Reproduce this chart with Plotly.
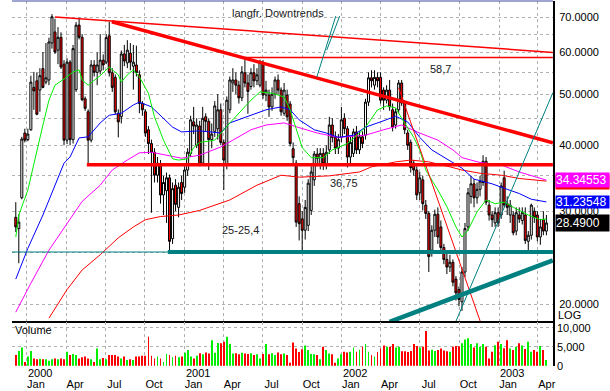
import numpy as np
import pandas as pd
import plotly.graph_objects as go

# ---------------- data (weekly, starting week of 1999-12-06) ----------------
start_week = "1999-12-06"
opens = [29.2, 27.8, 31.8, 42.2, 41.0, 42.8, 51.5, 53.0, 50.9, 55.9,
         52.7, 53.2, 62.5, 65.6, 60.6, 64.1, 57.0, 40.9, 57.5, 41.0,
         51.0, 67.6, 64.1, 49.0, 46.3, 40.9, 56.8, 55.0, 55.3, 58.0,
         57.5, 64.5, 54.9, 53.8, 46.0, 45.3, 59.6, 57.3, 59.8, 56.5,
         56.8, 54.4, 48.0, 46.3, 42.8, 40.3, 38.8, 35.1, 36.5, 32.2,
         32.8, 34.7, 26.6, 33.6, 30.5, 34.0, 33.3, 35.9, 38.6, 44.3,
         40.0, 43.5, 37.0, 45.3, 44.4, 41.0, 42.5, 43.0, 46.7, 40.5,
         36.7, 46.7, 52.5, 53.2, 52.0, 49.2, 54.9, 52.5, 51.7, 54.9,
         53.0, 52.0, 57.3, 49.8, 49.8, 47.3, 50.0, 53.2, 50.9, 46.0,
         49.8, 47.9, 39.4, 37.0, 31.0, 29.0, 27.6, 28.2, 30.1, 34.4,
         38.5, 36.9, 38.6, 36.9, 39.2, 43.7, 41.4, 39.5, 41.4, 45.0,
         43.0, 38.0, 38.6, 42.4, 39.2, 41.5, 41.8, 48.3, 53.7, 52.0,
         53.8, 53.8, 50.9, 48.7, 50.9, 46.7, 43.7, 46.7, 52.5, 48.1,
         42.2, 40.5, 37.0, 35.9, 32.5, 34.4, 30.8, 29.7, 25.3, 27.6,
         29.6, 28.0, 25.6, 24.3, 23.5, 24.0, 22.3, 21.3, 20.2, 23.0,
         28.0, 32.0, 33.8, 31.8, 33.0, 34.0, 37.3, 30.8, 29.5, 28.5,
         29.8, 29.5, 34.7, 31.0, 29.5, 29.5, 27.5, 29.5, 28.8, 29.5,
         26.3, 27.0, 30.0, 29.5, 26.8, 28.9, 27.5]
highs = [31.2, 29.6, 41.5, 43.0, 43.0, 54.2, 55.1, 54.9, 56.0, 60.1,
         62.5, 64.0, 70.9, 69.5, 67.0, 65.5, 58.0, 58.5, 58.0, 62.0,
         68.5, 69.8, 65.0, 49.5, 46.8, 58.0, 58.0, 60.0, 65.0, 59.5,
         65.0, 68.6, 56.0, 54.5, 46.8, 60.5, 62.0, 63.3, 62.5, 62.0,
         61.8, 55.5, 48.5, 46.8, 43.5, 41.0, 39.5, 38.0, 37.5, 35.0,
         35.5, 35.2, 34.0, 34.5, 34.0, 35.0, 36.5, 39.5, 45.5, 47.3,
         45.0, 44.5, 47.3, 46.0, 45.0, 44.0, 48.5, 50.0, 48.0, 41.0,
         49.5, 54.0, 56.0, 55.0, 53.0, 56.5, 58.8, 54.5, 56.0, 57.0,
         56.0, 58.1, 58.0, 53.0, 51.0, 51.5, 54.0, 54.5, 51.5, 52.5,
         51.0, 48.5, 40.5, 37.5, 32.0, 30.0, 31.5, 34.5, 36.5, 39.0,
         39.5, 39.5, 39.5, 40.0, 45.3, 45.0, 42.5, 42.0, 47.3, 46.0,
         43.5, 41.5, 43.0, 43.5, 42.5, 42.5, 49.0, 55.0, 55.5, 55.5,
         55.0, 55.0, 51.5, 52.0, 53.2, 48.0, 47.0, 53.2, 53.2, 48.7,
         42.8, 41.0, 37.5, 36.5, 35.6, 35.0, 31.5, 30.0, 28.2, 30.2,
         30.5, 28.8, 26.0, 25.0, 24.8, 24.3, 22.6, 21.6, 23.5, 28.5,
         33.2, 35.0, 34.5, 34.0, 35.0, 38.3, 38.0, 31.5, 30.0, 30.5,
         30.5, 34.0, 35.8, 32.0, 31.5, 30.0, 30.5, 30.5, 30.5, 30.5,
         27.5, 31.0, 30.5, 30.0, 29.0, 30.0, 29.5]
lows = [27.4, 23.9, 31.6, 40.5, 40.7, 42.6, 46.7, 45.6, 46.3, 51.3,
        52.2, 52.0, 61.0, 59.6, 57.0, 55.8, 40.0, 40.2, 40.0, 40.3,
        50.5, 63.5, 48.5, 46.5, 36.7, 40.5, 54.0, 52.0, 54.5, 55.5,
        57.0, 54.0, 50.5, 45.8, 41.4, 44.0, 56.5, 56.0, 55.5, 51.0,
        54.0, 46.0, 45.5, 41.5, 38.5, 29.8, 34.0, 34.0, 31.0, 29.5,
        28.5, 25.3, 26.0, 30.0, 29.2, 31.5, 32.5, 35.0, 38.0, 42.0,
        39.5, 36.5, 36.7, 42.5, 35.9, 39.5, 41.5, 41.0, 40.0, 32.9,
        36.0, 46.0, 50.5, 50.0, 48.0, 48.5, 51.5, 45.9, 51.0, 51.5,
        52.0, 51.5, 49.0, 48.5, 45.3, 46.5, 49.0, 50.0, 45.5, 45.5,
        44.5, 39.8, 36.9, 28.0, 26.4, 25.3, 26.5, 27.5, 29.5, 33.5,
        36.5, 36.0, 35.9, 36.0, 38.5, 40.5, 38.5, 38.5, 40.5, 42.0,
        36.3, 37.0, 38.0, 38.5, 38.5, 39.5, 41.0, 47.5, 51.5, 51.0,
        51.5, 48.0, 46.7, 48.0, 46.5, 42.5, 43.0, 46.0, 47.5, 42.0,
        39.2, 35.5, 35.0, 31.5, 31.5, 30.1, 29.0, 23.0, 24.6, 26.8,
        26.0, 25.0, 23.8, 22.8, 23.0, 21.6, 20.3, 19.8, 19.4, 22.5,
        27.5, 31.0, 30.5, 31.0, 32.0, 33.5, 30.8, 28.8, 28.0, 28.0,
        28.0, 29.0, 30.5, 29.5, 28.5, 27.0, 27.0, 28.5, 28.3, 26.0,
        25.0, 26.5, 28.5, 26.3, 25.9, 27.0, 27.0]
closes = [28.0, 28.6, 41.1, 40.9, 42.0, 52.7, 50.7, 45.8, 54.2, 51.5,
          53.7, 62.8, 70.1, 60.1, 64.1, 56.3, 40.9, 57.5, 41.0, 61.0,
          67.6, 64.1, 48.8, 47.0, 40.9, 56.8, 55.0, 56.8, 58.0, 56.8,
          64.0, 54.9, 51.5, 46.3, 44.3, 59.6, 57.8, 60.6, 57.5, 57.5,
          54.9, 48.0, 46.7, 42.2, 40.3, 38.8, 35.1, 37.0, 32.2, 34.0,
          34.7, 26.3, 33.1, 30.9, 33.3, 32.4, 35.9, 38.8, 44.7, 43.5,
          43.7, 36.7, 45.0, 44.4, 41.0, 42.0, 47.5, 46.7, 40.5, 37.5,
          48.7, 53.2, 53.2, 52.0, 49.2, 55.1, 52.5, 50.6, 54.9, 53.0,
          54.4, 57.5, 49.8, 50.9, 47.3, 50.0, 53.2, 50.9, 46.3, 50.9,
          45.3, 40.3, 37.9, 28.6, 28.4, 27.6, 30.5, 33.9, 35.6, 38.5,
          37.8, 38.6, 36.9, 38.8, 43.7, 41.4, 39.5, 41.0, 44.7, 43.0,
          38.0, 40.5, 42.4, 39.2, 41.5, 40.3, 48.3, 53.7, 53.0, 53.8,
          53.0, 48.7, 48.7, 50.9, 47.3, 43.3, 46.3, 52.5, 48.1, 42.8,
          40.0, 36.3, 35.9, 32.2, 34.7, 31.0, 29.7, 24.6, 27.6, 29.6,
          26.8, 25.6, 24.3, 23.5, 24.0, 22.0, 21.0, 20.4, 23.0, 27.8,
          32.5, 33.8, 31.8, 33.0, 34.2, 37.3, 31.2, 29.5, 28.9, 29.8,
          28.5, 33.5, 30.8, 30.5, 30.8, 27.3, 29.8, 29.0, 29.8, 26.4,
          27.0, 30.8, 29.2, 26.8, 28.0, 27.5, 28.49]
volumes = [2800, 3900, 4800, 1000, 2400, 3900, 1900, 1700, 1800, 1700,
           1700, 1300, 1700, 1900, 1700, 1900, 1700, 3700, 2800, 3100,
           2800, 1900, 2200, 2400, 1900, 1700, 1000, 4500, 1700, 2000,
           1700, 2800, 2800, 2800, 2400, 1900, 2400, 1500, 1700, 1500,
           2400, 2400, 2600, 2600, 7600, 2600, 1900, 2400, 1900, 1000,
           3100, 2800, 2200, 2600, 2200, 2400, 3400, 4100, 2400, 1900,
           2600, 3300, 3000, 3500, 3200, 6700, 3400, 6000, 5900, 6300,
           7600, 5700, 3200, 3300, 3000, 3400, 3200, 3100, 3300, 2800,
           3000, 1900, 3100, 5700, 3000, 3300, 2800, 3500, 3000, 3200,
           2800, 800, 6100, 4500, 3600, 4300, 5300, 4100, 3100, 3000,
           2800, 1700, 5000, 4100, 3200, 3000, 800, 1900, 3000, 3700,
           3500, 3700, 4800, 3700, 4200, 5000, 5700, 3700, 2800, 2400,
           3600, 4500, 5300, 5000, 5000, 5700, 4800, 5000, 3800, 3800,
           3600, 3900, 5700, 5200, 4800, 5000, 9100, 4000, 4200, 3900,
           4100, 4500, 4000, 3800, 3700, 5000, 5200, 5100, 5900, 6900,
           7200, 5700, 4800, 5900, 5000, 5700, 5000, 1900, 3700, 5400,
           6300, 5700, 4600, 6700, 4500, 4100, 5000, 5900, 5300, 4400,
           6300, 3700, 4100, 3700, 5200, 4100, 1500]

# moving averages (week index -> value)
ma_green_idx = [0, 1, 4, 7, 9, 11, 13, 16, 19, 21, 22, 24, 28, 31, 34, 35, 37, 39, 41, 44,
                46, 49, 52, 54, 57, 59, 61, 66, 71, 78, 81, 85, 89, 91, 93, 95, 98, 102,
                105, 110, 114, 116, 120, 123, 126, 128, 132, 134, 136, 140, 143, 146, 148,
                150, 153, 156, 159, 162, 166, 170, 174, 176]
ma_green = [26.8, 29.5, 32.9, 39.2, 43.7, 48.7, 52.0, 53.4, 55.1, 55.6, 53.2, 52.0, 54.2,
            56.3, 54.4, 52.7, 54.4, 55.6, 53.9, 50.2, 45.3, 40.9, 37.7, 37.5, 37.7, 39.6,
            40.5, 40.9, 44.1, 48.7, 50.5, 50.2, 49.4, 46.7, 42.8, 39.6, 37.9, 37.9, 39.2,
            40.3, 42.2, 43.3, 46.7, 47.5, 47.1, 45.0, 41.4, 39.2, 35.9, 32.9, 30.6, 28.0,
            26.8, 27.6, 29.9, 31.5, 31.0, 31.2, 30.3, 29.5, 28.9, 29.0]
ma_blue_idx = [0, 4, 9, 11, 16, 18, 21, 24, 28, 31, 35, 39, 41, 45, 48, 52, 55, 61, 68, 71,
               78, 83, 88, 91, 94, 99, 103, 107, 112, 116, 121, 126, 130, 134, 138, 143,
               146, 148, 152, 158, 163, 167, 171, 176]
ma_blue = [22.3, 25.5, 29.5, 31.5, 37.0, 38.0, 41.3, 41.5, 44.1, 45.6, 46.0, 47.7, 48.3,
           47.3, 45.6, 43.3, 42.4, 42.6, 42.2, 44.1, 45.6, 46.7, 47.3, 46.7, 44.7, 42.8,
           42.2, 41.4, 41.8, 43.3, 44.3, 45.4, 44.3, 41.4, 39.2, 37.7, 36.9, 36.2, 34.5,
           33.8, 33.0, 32.4, 31.6, 31.23548]
ma_magenta_idx = [0, 5, 11, 17, 22, 28, 32, 37, 41, 45, 50, 55, 61, 68, 72, 78, 83, 89, 94,
                  100, 107, 116, 122, 128, 134, 140, 145, 148, 154, 161, 167, 173, 176]
ma_magenta = [19.3, 21.9, 25.3, 28.5, 31.3, 33.6, 35.9, 37.5, 38.7, 38.8, 38.3, 37.8, 38.3,
              39.7, 40.9, 42.8, 43.7, 44.1, 43.2, 42.2, 41.4, 41.8, 42.8, 43.7, 42.2, 40.9,
              39.2, 37.9, 37.1, 36.7, 35.6, 34.8, 34.34553]
ma_red_idx = [11, 17, 22, 28, 34, 39, 43, 48, 54, 61, 71, 80, 88, 94, 104, 114, 118, 126,
              131, 137, 144, 148, 154, 161, 167, 173, 176]
ma_red = [18.8, 21.3, 23.2, 24.8, 26.7, 28.0, 28.9, 29.3, 29.5, 30.1, 31.5, 33.6, 35.1,
          34.8, 35.0, 35.6, 36.4, 37.2, 37.5, 37.2, 36.4, 35.9, 35.4, 35.1, 34.6, 34.4, 34.2]

# drawn trend lines / levels (dates, prices)
right_end = "2003-05-06"
trend_long_dates = ["2000-03-06", right_end]
trend_long_vals = [70.0, 60.0]
trend_main_dates = ["2000-07-16", right_end]
trend_main_vals = [68.6, 40.45]
level_587_dates = ["2001-05-21", right_end]
level_587_vals = [58.7, 58.7]
level_3675_dates = ["2000-05-19", right_end]
level_3675_vals = [36.75, 36.75]
steep_down_dates = ["2002-05-13", "2002-11-25"]
steep_down_vals = [51.4, 17.9]
level_25_dates = ["2000-11-23", right_end]
level_25_full_dates = ["1999-11-27", right_end]
level_25_vals = [25.1, 25.1]
support_dates = ["2002-04-22", right_end]
support_vals = [18.5, 24.2]
steep_up_dates = ["2002-09-20", right_end]
steep_up_vals = [18.3, 50.3]
pointer1_dates = ["2001-12-18", "2001-11-04"]
pointer1_vals = [70.3, 53.9]
pointer2_dates = ["2001-12-27", "2001-11-27"]
pointer2_vals = [70.3, 60.6]

quarter_ticks = ["2000-01-01", "2000-04-01", "2000-07-01", "2000-10-01",
                 "2001-01-01", "2001-04-01", "2001-07-01", "2001-10-01",
                 "2002-01-01", "2002-04-01", "2002-07-01", "2002-10-01",
                 "2003-01-01", "2003-04-01"]
month_labels = ["Jan", "Apr", "Jul", "Oct"] * 3 + ["Jan", "Apr"]
year_ticks = ["2000-01-01", "2001-01-01", "2002-01-01", "2003-01-01"]
year_labels = ["2000", "2001", "2002", "2003"]
price_ticks = [20, 25, 30, 35, 40, 45, 50, 55, 60, 65, 70]
price_labels = ["20.0000", "", "30.0000", "", "40.0000", "", "50.0000", "", "60.0000", "", "70.0000"]
vol_ticks = [0, 5000, 10000]
vol_labels = ["0", "5,000", "10,000"]

last_close = 28.49
last_blue = 31.23548
last_magenta = 34.34553
last_red = 34.0

# ---------------- figure ----------------
dates = pd.date_range(start_week, periods=len(closes), freq="7D")
FONT = "Liberation Sans"
x_range = ["1999-11-27 05:00", "2003-05-06 09:00"]
vol_range = [-80, 11500]

fig = go.Figure()

def ma_trace(idx, vals, color):
    return go.Scatter(x=[dates[i] for i in idx], y=vals, mode="lines",
                      line=dict(color=color, width=1), xaxis="x", yaxis="y",
                      hoverinfo="skip", showlegend=False)

fig.add_trace(ma_trace(ma_red_idx, ma_red, "#ff0000"))
fig.add_trace(ma_trace(ma_magenta_idx, ma_magenta, "#ff00ff"))
fig.add_trace(ma_trace(ma_blue_idx, ma_blue, "#0000ff"))
fig.add_trace(ma_trace(ma_green_idx, ma_green, "#00ee00"))

fig.add_trace(go.Candlestick(
    x=dates, open=opens, high=highs, low=lows, close=closes,
    increasing=dict(line=dict(color="black", width=1), fillcolor="white"),
    decreasing=dict(line=dict(color="black", width=1), fillcolor="#ff0000"),
    whiskerwidth=0, xaxis="x", yaxis="y", showlegend=False))

def line_trace(xs, ys, color, width):
    return go.Scatter(x=xs, y=ys, mode="lines", line=dict(color=color, width=width),
                      xaxis="x", yaxis="y", hoverinfo="skip", showlegend=False)

fig.add_trace(line_trace(trend_long_dates, trend_long_vals, "#ff0000", 1.5))
fig.add_trace(line_trace(trend_main_dates, trend_main_vals, "#ff0000", 3.5))
fig.add_trace(line_trace(level_587_dates, level_587_vals, "#ff0000", 1.5))
fig.add_trace(line_trace(level_3675_dates, level_3675_vals, "#ff0000", 3.5))
fig.add_trace(line_trace(steep_down_dates, steep_down_vals, "#ff0000", 1))
fig.add_trace(line_trace(level_25_full_dates, level_25_vals, "#008080", 1.2))
fig.add_trace(line_trace(level_25_dates, level_25_vals, "#008080", 4))
fig.add_trace(line_trace(support_dates, support_vals, "#008080", 4.5))
fig.add_trace(line_trace(steep_up_dates, steep_up_vals, "#008080", 1))
fig.add_trace(line_trace(pointer1_dates, pointer1_vals, "#008080", 1))
fig.add_trace(line_trace(pointer2_dates, pointer2_vals, "#008080", 1))

vol_colors = ["#00ee00" if c >= o else "#ff0000" for o, c in zip(opens, closes)]
fig.add_trace(go.Bar(x=dates, y=volumes, marker=dict(color=vol_colors, line=dict(width=0)),
                     width=2.0 * 86400000, xaxis="x2", yaxis="y2", showlegend=False,
                     hoverinfo="skip"))

grid = dict(showgrid=True, gridcolor="#b0b0b0", griddash="dot", gridwidth=1)

H_PLOT = 365.0
main_bottom = (366 - 321) / H_PLOT
vol_top = (366 - 322) / H_PLOT

fig.update_layout(
    width=610, height=391,
    margin=dict(l=12, r=57, t=1, b=25, autoexpand=False),
    paper_bgcolor="white", plot_bgcolor="white",
    font=dict(family=FONT, size=11, color="black"),
    showlegend=False, boxgap=0.05,
    xaxis=dict(domain=[0, 1], anchor="y", type="date", range=x_range,
               tickvals=quarter_ticks, showticklabels=False, ticks="",
               rangeslider=dict(visible=False), showline=True, linecolor="black",
               linewidth=2, zeroline=False, automargin=False, **grid),
    yaxis=dict(domain=[main_bottom, 1], anchor="x", type="log", side="right",
               range=[np.log10(18.57), np.log10(75.1)], tickvals=price_ticks,
               ticktext=price_labels, ticks="", showline=True, linecolor="black",
               linewidth=2, zeroline=False, ticklabelstandoff=2, automargin=False, **grid),
    xaxis2=dict(domain=[0, 1], anchor="y2", type="date", range=x_range,
                tickvals=quarter_ticks, ticktext=month_labels, ticks="",
                ticklabelshift=9, ticklabelstandoff=10, showline=False,
                zeroline=False, tickfont=dict(size=11), automargin=False,
                rangeslider=dict(visible=False), **grid),
    yaxis2=dict(domain=[0, vol_top], anchor="x2", side="right", range=vol_range,
                autorange=False, type="linear", tickvals=vol_ticks,
                showticklabels=False, ticks="", showline=True, linecolor="black",
                linewidth=2, zeroline=False, automargin=False, **grid),
)

def px_x(px):
    return (px - 12) / 541.0

def px_y(py):
    return (366 - py) / H_PLOT

texts = [("langfr. Downtrends", 278, 12.5), ("58,7", 440, 69), ("36,75", 343.5, 182.5),
         ("25-25,4", 240, 230)]
anns = []
for t, xx, yy in texts:
    anns.append(dict(text=t, xref="paper", yref="paper", x=px_x(xx), y=px_y(yy),
                     xanchor="center", yanchor="middle",
                     showarrow=False, font=dict(size=11, color="#202020", family=FONT)))
anns.append(dict(text="Volume", xref="paper", yref="paper", x=px_x(13), y=px_y(329.5),
                 xanchor="left", yanchor="middle", showarrow=False,
                 font=dict(size=11, color="black")))
anns.append(dict(text="LOG", xref="paper", yref="paper", x=1, xshift=3, y=px_y(315),
                 xanchor="left", yanchor="middle", showarrow=False,
                 font=dict(size=11, color="black")))
# year labels above the month labels
for d, lab in zip(year_ticks, year_labels):
    anns.append(dict(text=lab, xref="x2", yref="paper", x=d, xshift=-1, y=px_y(372.5),
                     xanchor="left", yanchor="middle", showarrow=False,
                     font=dict(size=11, color="black")))
# volume scale labels at the volume panel's value positions
# (panel spans y=322..366 px for volume -80..11500)
for v, lab in zip(vol_ticks, vol_labels):
    frac = (v - vol_range[0]) / (vol_range[1] - vol_range[0])
    anns.append(dict(text=lab, xref="paper", yref="paper", x=1, xshift=2,
                     y=frac * vol_top, xanchor="left", yanchor="middle", showarrow=False,
                     font=dict(size=11, color="black")))

def box(val, text, bg, h=14):
    return dict(text=text, xref="paper", yref="y", x=1, xshift=2, y=np.log10(val),
                xanchor="left", yanchor="middle", showarrow=False, bgcolor=bg,
                width=53, height=h, align="left", borderpad=0,
                font=dict(size=12, color="white", family=FONT))

anns.append(box(last_red, " ", "#ff0000", 14))
anns.append(box(last_magenta, "34.34553", "#ff00ff", 14))
anns.append(box(last_blue, "31.23548", "#0000ff", 12))
anns.append(box(last_close, "28.4900", "#000000", 16))
fig.update_layout(annotations=anns)

fig.add_shape(type="line", xref="paper", yref="paper", x0=0, x1=1, y0=1, y1=1,
              line=dict(color="#3c4aa0", width=1))

fig.write_html("out.html", config={"displayModeBar": False},
               post_script="document.body.style.margin='0px';document.body.style.padding='0px';")
